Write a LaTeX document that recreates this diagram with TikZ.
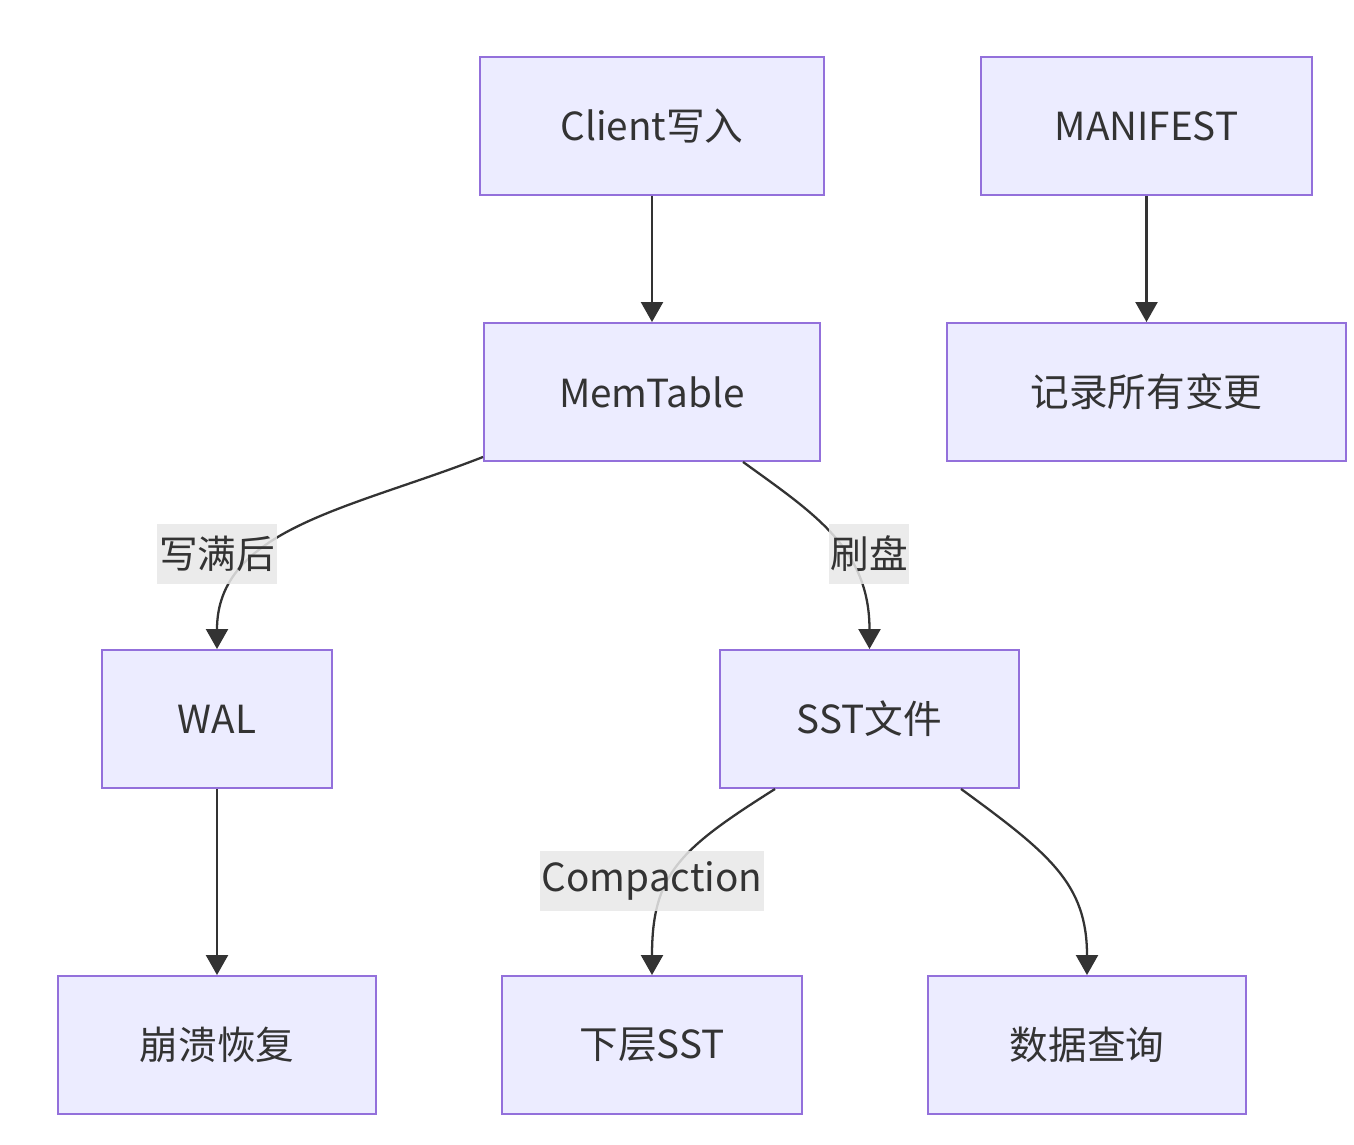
\documentclass[tikz,border=0pt]{standalone}
\usepackage{fontspec}
\setmainfont{Noto Sans CJK SC}
\usetikzlibrary{positioning, arrows.meta, calc}
\definecolor{boxfill}{HTML}{ECECFF}
\definecolor{boxline}{HTML}{9370DB}
\definecolor{edgeline}{HTML}{333333}
\definecolor{lblfill}{HTML}{E8E8E8}
\tikzset{
  block/.style={
    draw=boxline,
    line width=1.1pt,
    rectangle,
    fill=boxfill,
    minimum height=2.76cm,
    align=center,
    text=edgeline,
    font=\fontsize{22}{26}\selectfont
  },
  flow/.style={
    draw=edgeline,
    line width=1.3pt,
    -{Triangle[length=0.4cm,width=0.44cm]}
  },
  tag/.style={
    fill=lblfill,
    fill opacity=0.85,
    text opacity=1,
    text=edgeline,
    inner sep=1pt,
    minimum height=1.2cm,
    font=\fontsize{22}{26}\selectfont
  }
}
\begin{document}
\begin{tikzpicture}
  \useasboundingbox (0,0) rectangle (27.08,22.88);

  \node[block, minimum width=6.88cm] (client) at (13.04,20.36) {Client写入};
  \node[block, minimum width=6.62cm] (manifest) at (22.93,20.36) {MANIFEST};
  \node[block, minimum width=6.72cm] (mem) at (13.04,15.04) {MemTable};
  \node[block, minimum width=7.98cm] (log) at (22.93,15.04) {记录所有变更};

  \node[block, minimum width=4.6cm] (wal) at (4.34,8.5) {WAL};
  \node[block, minimum width=5.98cm] (sst) at (17.39,8.5) {SST文件};

  \node[block, minimum width=6.36cm] (crash) at (4.34,1.98) {崩溃恢复};
  \node[block, minimum width=6.0cm] (lower) at (13.04,1.98) {下层SST};
  \node[block, minimum width=6.36cm] (query) at (21.74,1.98) {数据查询};

  % arrows
  \draw[flow] (client) -- (mem);
  \draw[flow] (manifest) -- (log);
  \draw[flow] (wal) -- (crash);

  \draw[flow] ($(mem.south west)+(0,0.1)$) .. controls (7.0,12.7) and (4.34,12.3) .. (wal.north);
  \draw[flow] ($(mem.south west)+(5.2,0)$) .. controls (16.3,12.6) and (17.39,11.9) .. (sst.north);
  \draw[flow] ($(sst.south west)+(1.12,0)$) .. controls (13.6,5.9) and (13.04,5.4) .. (lower.north);
  \draw[flow] ($(sst.south west)+(4.84,0)$) .. controls (21.0,5.8) and (21.74,5.2) .. (query.north);

  % labels
  \node[tag] (full) at (4.34,11.8) {写满后};
  \node[tag] (flush) at (17.38,11.8) {刷盘};
  \node[tag] (compact) at (13.04,5.26) {Compaction};
\end{tikzpicture}
\end{document}
